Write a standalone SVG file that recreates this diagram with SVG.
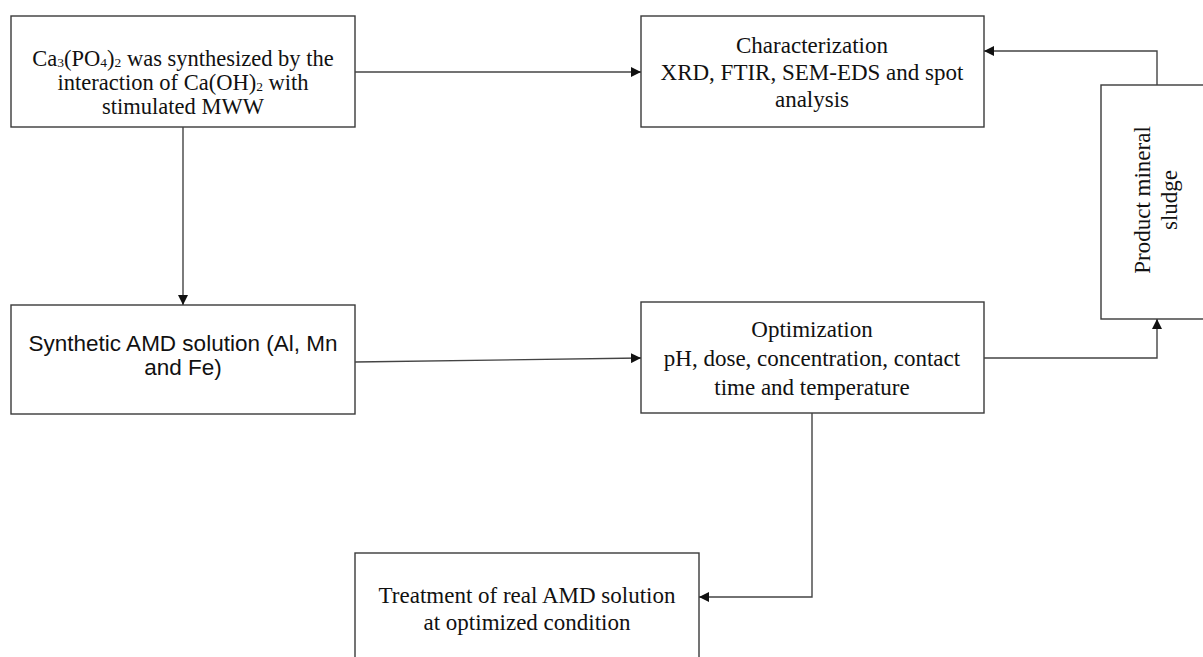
<svg xmlns="http://www.w3.org/2000/svg" width="1203" height="657" viewBox="0 0 1203 657">
<style>
.box{fill:#fff;stroke:#3a3a3a;stroke-width:1.4}
.t{font-family:"Liberation Serif","Times New Roman",serif;font-size:23px;fill:#111;text-anchor:middle}
.t1{font-size:22.5px}
.s{font-family:"Liberation Sans",Arial,sans-serif;font-size:22.5px;fill:#111;text-anchor:middle}
.c{fill:none;stroke:#444;stroke-width:1.4}
.sub{font-size:13.5px}
</style>
<defs>
<marker id="ah" viewBox="0 0 10 10" refX="10" refY="5" markerWidth="10" markerHeight="10" markerUnits="userSpaceOnUse" orient="auto">
<path d="M0,0 L10,5 L0,10 z" fill="#111"/>
</marker>
</defs>
<g id="n1">
<rect class="box" x="11" y="16" width="344" height="111"/>
<text class="t t1" x="183" y="66">Ca<tspan class="sub" dy="1">3</tspan><tspan dy="-1">(PO</tspan><tspan class="sub" dy="1">4</tspan><tspan dy="-1">)</tspan><tspan class="sub" dy="1">2</tspan><tspan dy="-1"> was synthesized by the</tspan></text>
<text class="t t1" x="183" y="90">interaction  of Ca(OH)<tspan class="sub" dy="1">2</tspan><tspan dy="-1"> with</tspan></text>
<text class="t t1" x="183" y="114">stimulated  MWW</text>
</g>
<g id="n2">
<rect class="box" x="641" y="16" width="343" height="111"/>
<text class="t" x="812" y="53">Characterization</text>
<text class="t" x="812" y="80">XRD, FTIR, SEM-EDS and spot</text>
<text class="t" x="812" y="107">analysis</text>
</g>
<g id="n3">
<rect class="box" x="11" y="305" width="344" height="109"/>
<text class="s" x="183" y="351">Synthetic  AMD solution (Al, Mn</text>
<text class="s" x="183" y="375">and Fe)</text>
</g>
<g id="n4">
<rect class="box" x="641" y="302" width="343" height="111"/>
<text class="t" x="812" y="337">Optimization</text>
<text class="t" x="812" y="366">pH, dose, concentration, contact</text>
<text class="t" x="812" y="395">time  and temperature</text>
</g>
<g id="n5">
<rect class="box" x="1101" y="85" width="120" height="234"/>
<text class="t" transform="translate(1150,200) rotate(-90)">Product mineral</text>
<text class="t" transform="translate(1177,200) rotate(-90)">sludge</text>
</g>
<g id="n6">
<rect class="box" x="355" y="553" width="344" height="120"/>
<text class="t" x="527" y="603">Treatment  of real AMD  solution</text>
<text class="t" x="527" y="630">at optimized  condition</text>
</g>
<g id="connectors">
<path class="c" d="M355,72 L641,72" marker-end="url(#ah)"/>
<path class="c" d="M183,127 L183,305" marker-end="url(#ah)"/>
<path class="c" d="M355,362 L641,358" marker-end="url(#ah)"/>
<path class="c" d="M984,358 L1157,358 L1157,319" marker-end="url(#ah)"/>
<path class="c" d="M1157,85 L1157,51 L984,51" marker-end="url(#ah)"/>
<path class="c" d="M812,413 L812,597 L699,597" marker-end="url(#ah)"/>
</g>
</svg>
